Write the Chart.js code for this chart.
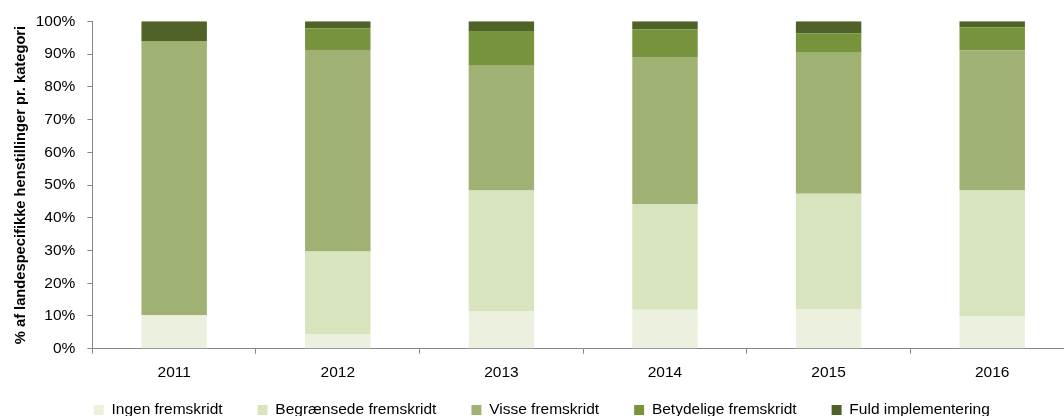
<!DOCTYPE html>
<html lang="da">
<head>
<meta charset="UTF-8">
<title>Henstillinger pr. kategori</title>
<script src="https://cdn.jsdelivr.net/npm/chart.js"></script>
<style>
    html, body { margin: 0; padding: 0; background: #fff; overflow: hidden; }
    .wrap { position: relative; width: 1118px; height: 416px; }
</style>
</head>
<body>
<div class="wrap">
    <canvas id="chart" width="1118" height="416"></canvas>
</div>
<script>
// data
const years = ["2011", "2012", "2013", "2014", "2015", "2016"];
const ingen = [10.2, 4.3, 11.5, 11.9, 12.1, 9.8];
const begraensede = [0, 25.4, 36.8, 32.3, 35.2, 38.7];
const visse = [83.8, 61.5, 38.1, 44.9, 43.1, 42.6];
const betydelige = [0, 6.7, 10.6, 8.5, 5.9, 7.1];
const fuld = [6.0, 2.1, 3.0, 2.4, 3.7, 1.8];
const yTicks = [0, 10, 20, 30, 40, 50, 60, 70, 80, 90, 100];

const fontFam = "'Liberation Sans', Arial, sans-serif";
const axisGrey = '#868686';
const legendTextY = 410;

function ds(label, values, color) {
    return {
        label: label,
        data: values,
        backgroundColor: color,
        borderWidth: 0,
        barPercentage: 0.4,
        categoryPercentage: 1
    };
}

// legend needs wide gaps between items but sits close under the axis labels,
// so the layout gets a short box and the box is moved/grown afterwards
const legendShift = {
    id: 'legendShift',
    afterLayout(chart) {
        const lg = chart.legend;
        const pad = lg.options.labels.padding;
        const fs = lg.options.labels.font.size;
        lg.top = legendTextY - pad - fs / 2;
        lg.height = pad + fs + 10;
        lg.bottom = lg.top + lg.height;
    }
};

const ctx = document.getElementById('chart').getContext('2d');
new Chart(ctx, {
    type: 'bar',
    data: {
        labels: years,
        datasets: [
            ds('Ingen fremskridt', ingen, '#EBF1DE'),
            ds('Begrænsede fremskridt', begraensede, '#D7E4BD'),
            ds('Visse fremskridt', visse, '#9FB274'),
            ds('Betydelige fremskridt', betydelige, '#77933C'),
            ds('Fuld implementering', fuld, '#4F6228')
        ]
    },
    plugins: [legendShift],
    options: {
        responsive: false,
        animation: false,
        layout: { padding: { top: 21, right: 44, left: 9.5, bottom: 0 } },
        scales: {
            x: {
                stacked: true,
                grid: { drawOnChartArea: false, color: axisGrey, tickLength: 5 },
                border: { color: axisGrey, width: 1 },
                ticks: { color: '#000', font: { family: fontFam, size: 15.5 }, padding: 10 }
            },
            y: {
                stacked: true,
                min: 0,
                max: 100,
                afterBuildTicks: function (axis) {
                    axis.ticks = yTicks.map(v => ({ value: v }));
                },
                grid: { drawOnChartArea: false, color: axisGrey, tickLength: 5 },
                border: { color: axisGrey, width: 1 },
                ticks: {
                    color: '#000',
                    font: { family: fontFam, size: 15.5 },
                    padding: 12,
                    callback: v => v + '%'
                },
                title: {
                    display: true,
                    text: '% af landespecifikke henstillinger pr. kategori',
                    color: '#000',
                    font: { family: fontFam, size: 14.7, weight: 'bold' },
                    padding: { top: 3, bottom: -6.4 }
                }
            }
        },
        plugins: {
            legend: {
                position: 'bottom',
                maxHeight: 23.7,
                labels: {
                    boxWidth: 10,
                    boxHeight: 10,
                    padding: 35,
                    color: '#000',
                    font: { family: fontFam, size: 15.5 }
                }
            },
            tooltip: { enabled: false }
        }
    }
});
</script>
</body>
</html>
